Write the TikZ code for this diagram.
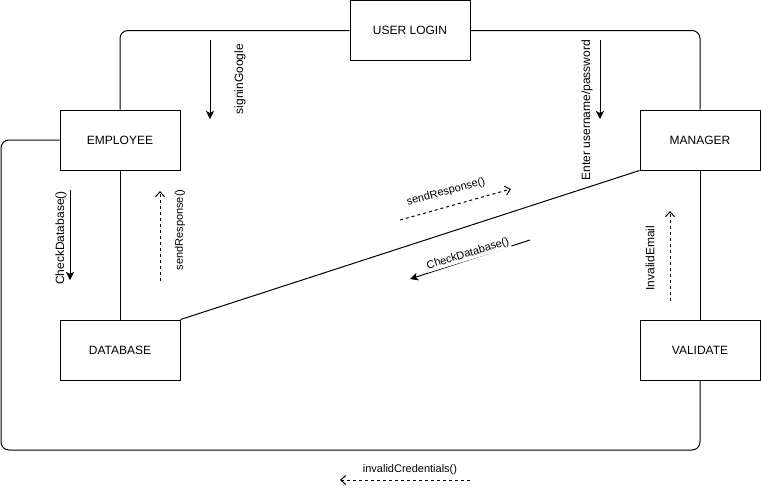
\documentclass[tikz,border=0pt]{standalone}
\usepackage{fontspec}
\setmainfont{Liberation Sans}
\usetikzlibrary{arrows.meta}
\begin{document}
\begin{tikzpicture}[x=1pt,y=-1pt, line width=1pt,
  box/.style={draw, fill=white, minimum width=120pt, minimum height=60pt, inner sep=0pt, font=\fontsize{12}{14}\selectfont},
  lbl/.style={font=\fontsize{12}{14}\selectfont, inner sep=1pt},
  slbl/.style={font=\fontsize{11}{13}\selectfont, inner sep=1pt},
  msg/.style={-{Stealth[length=8pt,width=8pt,inset=2pt]}},
  ret/.style={dash pattern=on 3pt off 3pt, -{Straight Barb[length=5pt,width=9pt]}},
  link/.style={rounded corners=8pt}]
\useasboundingbox (0,0) rectangle (761,491);
% boxes
\node[box] (login) at (410,30.5) {USER LOGIN};
\node[box] (emp) at (120,140) {EMPLOYEE};
\node[box] (mgr) at (700,140) {MANAGER};
\node[box] (db) at (120,350) {DATABASE};
\node[box] (val) at (700,350) {VALIDATE};
% links
\coordinate (bl) at (1,450);
\draw[link] (login.west) -| (emp.north);
\draw[link] (login.east) -| (mgr.north);
\draw (emp.south) -- (db.north);
\draw (mgr.south) -- (val.north);
\draw (mgr.south west) -- (db.north east);
\draw[link] (emp.west) -| (bl) -| (val.south);
% messages
\coordinate (g1) at (210,40); \coordinate (g2) at (210,119);
\draw[msg] (g1) -- (g2);
\node[lbl, rotate=90] (gl) at (240,79) {signinGoogle};

\coordinate (u1) at (600,40); \coordinate (u2) at (600,119);
\draw[msg] (u1) -- (u2);
\node[lbl, rotate=90] (ul) at (587,110) {Enter username/password};

\coordinate (c1) at (70,190); \coordinate (c2) at (70,280);
\draw[msg] (c1) -- (c2);
\node[lbl, rotate=90] (cl) at (61,238) {CheckDatabase()};

\coordinate (s1) at (160,281); \coordinate (s2) at (160,191);
\draw[ret] (s1) -- (s2);
\node[slbl, rotate=90] (sl) at (180,230) {sendResponse()};

\coordinate (i1) at (670,301); \coordinate (i2) at (670,211);
\draw[ret] (i1) -- (i2);
\node[lbl, rotate=90] (il) at (650,258) {InvalidEmail};

\coordinate (d1) at (400,220); \coordinate (d2) at (511,189);
\draw[ret] (d1) -- (d2);
\node[slbl, rotate=15] (dl) at (446,192) {sendResponse()};

\coordinate (k1) at (530,240); \coordinate (k2) at (410,279);
\draw[msg] (k1) -- (k2);
\node[slbl, rotate=17, fill=white] (kl) at (468,254) {CheckDatabase()};

\coordinate (v1) at (470,480); \coordinate (v2) at (340,480);
\draw[ret] (v1) -- (v2);
\node[slbl] (vl) at (410,470) {invalidCredentials()};
\end{tikzpicture}
\end{document}
